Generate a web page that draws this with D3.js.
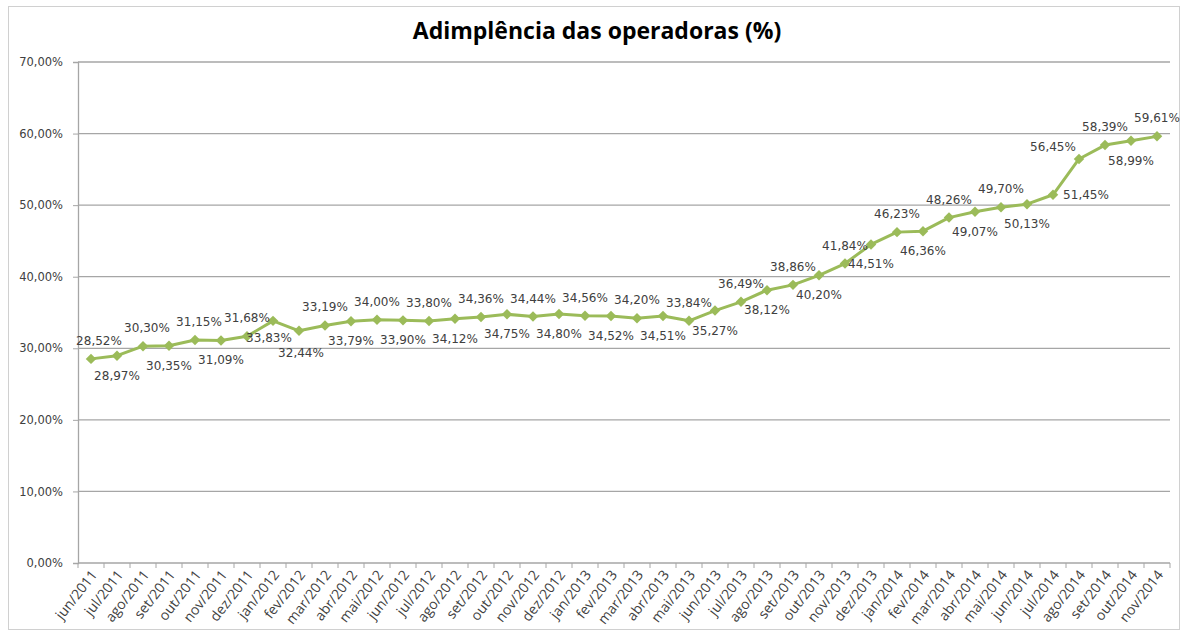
<!DOCTYPE html>
<html>
<head>
<meta charset="utf-8">
<script src="https://cdn.jsdelivr.net/npm/d3@7"></script>
<style>
  body { margin: 0; background: #fff; }
  svg { display: block; }
</style>
</head>
<body>
<div id="chart"></div>
<script>
// months shown on the x axis
const months = ["jun/2011","jul/2011","ago/2011","set/2011","out/2011","nov/2011","dez/2011",
  "jan/2012","fev/2012","mar/2012","abr/2012","mai/2012","jun/2012","jul/2012","ago/2012","set/2012","out/2012","nov/2012","dez/2012",
  "jan/2013","fev/2013","mar/2013","abr/2013","mai/2013","jun/2013","jul/2013","ago/2013","set/2013","out/2013","nov/2013","dez/2013",
  "jan/2014","fev/2014","mar/2014","abr/2014","mai/2014","jun/2014","jul/2014","ago/2014","set/2014","out/2014","nov/2014"];

// adimplencia (%)
const values = [28.52,28.97,30.30,30.35,31.15,31.09,31.68,
  33.83,32.44,33.19,33.79,34.00,33.90,33.80,34.12,34.36,34.75,34.44,34.80,
  34.56,34.52,34.20,34.51,33.84,35.27,36.49,38.12,38.86,40.20,41.84,44.51,
  46.23,46.36,48.26,49.07,49.70,50.13,51.45,56.45,58.39,58.99,59.61];

const yTicks = [0,10,20,30,40,50,60,70];

const W = 1186, H = 632;
const margin = {top: 62, right: 16, bottom: 69, left: 78};
const green = "#9bbb59";

const svg = d3.select("#chart").append("svg")
  .attr("width", W).attr("height", H);

// outer frame
svg.append("rect")
  .attr("x", 8.5).attr("y", 6.5)
  .attr("width", W - 15).attr("height", H - 9)
  .attr("fill", "none").attr("stroke", "#d0d0d0");

const x = d3.scaleBand().domain(months)
  .range([margin.left, W - margin.right]).padding(0);
const y = d3.scaleLinear().domain([0, 70])
  .range([H - margin.bottom, margin.top]);

const fmt = v => d3.format(".2f")(v).replace(".", ",") + "%";

// grid
svg.append("g").selectAll("line").data(yTicks.slice(1)).join("line")
  .attr("x1", margin.left).attr("x2", W - margin.right)
  .attr("y1", d => y(d)).attr("y2", d => y(d))
  .attr("stroke", "#a6a6a6").attr("stroke-width", 1.3);

// y axis
const yAxis = svg.append("g")
  .attr("transform", `translate(${margin.left},0)`)
  .call(d3.axisLeft(y).tickValues(yTicks).tickFormat(fmt).tickSize(5).tickPadding(10));
yAxis.select(".domain").attr("stroke", "#a6a6a6").attr("stroke-width", 1.3);
yAxis.selectAll(".tick line").attr("stroke", "#a6a6a6");
yAxis.selectAll("text")
  .attr("font-family", "DejaVu Sans, Verdana, sans-serif")
  .attr("font-size", 11.5).attr("fill", "#404040");

// x axis, ticks between categories
const xAxis = svg.append("g")
  .attr("transform", `translate(0,${H - margin.bottom})`);
xAxis.append("line")
  .attr("x1", margin.left).attr("x2", W - margin.right)
  .attr("stroke", "#a6a6a6").attr("stroke-width", 1.3);
xAxis.selectAll(".tk").data(months.concat(["end"])).join("line")
  .attr("class", "tk")
  .attr("x1", (d, i) => margin.left + i * x.bandwidth())
  .attr("x2", (d, i) => margin.left + i * x.bandwidth())
  .attr("y1", 0).attr("y2", 5)
  .attr("stroke", "#a6a6a6");
xAxis.selectAll("text").data(months).join("text")
  .attr("transform", d => `translate(${x(d) + x.bandwidth() / 2 + 3},9) rotate(-52)`)
  .attr("text-anchor", "end")
  .attr("dy", "0.35em")
  .attr("font-family", "'Liberation Sans Narrow', 'Open Sans', sans-serif")
  .attr("font-size", 14).attr("fill", "#404040")
  .text(d => d);

// line
const cx = d => x(d) + x.bandwidth() / 2;
svg.append("path")
  .datum(values)
  .attr("fill", "none").attr("stroke", green).attr("stroke-width", 3)
  .attr("stroke-linejoin", "round")
  .attr("d", d3.line().x((d, i) => cx(months[i])).y(d => y(d)));

// markers
svg.append("g").selectAll("path").data(values).join("path")
  .attr("transform", (d, i) => `translate(${cx(months[i])},${y(d)})`)
  .attr("d", d3.symbol(d3.symbolDiamond2, 70)())
  .attr("fill", green);

// label side: alternate above/below, with the few spots the original moved
function labelSide(i) {
  if (i === 37) return "br";
  if (i === 38) return "tl";
  if (i <= 6) return i % 2 === 0 ? "t" : "b";
  if (i === 7) return "b";
  return i % 2 === 1 ? "t" : "b";
}

svg.append("g").selectAll("text").data(values).join("text")
  .attr("x", (d, i) => {
    const s = labelSide(i);
    let dx = 0;
    if (s === "br") dx = 33;
    if (s === "tl") dx = -26;
    if (i === 0) dx = 8;
    if (i === 2 || i === 4) dx = 4;
    if (i === 7) dx = -4;
    if (i === 8) dx = 2;
    return cx(months[i]) + dx;
  })
  .attr("y", (d, i) => {
    const s = labelSide(i);
    if (s === "t") return y(d) - 14;
    if (s === "tl") return y(d) - 8;
    if (s === "br") return y(d) + 4;
    if (i === 7) return y(d) + 21;
    if (i === 8) return y(d) + 26;
    return y(d) + 24;
  })
  .attr("text-anchor", "middle")
  .attr("font-family", "DejaVu Sans, Verdana, sans-serif")
  .attr("font-size", 12).attr("fill", "#404040")
  .text(d => fmt(d));

// title
svg.append("text")
  .attr("x", 597).attr("y", 39)
  .attr("text-anchor", "middle")
  .attr("font-family", "'Open Sans', Carlito, sans-serif")
  .attr("font-weight", "bold").attr("font-size", 23)
  .attr("fill", "#000")
  .text("Adimplência das operadoras (%)");
</script>
</body>
</html>
